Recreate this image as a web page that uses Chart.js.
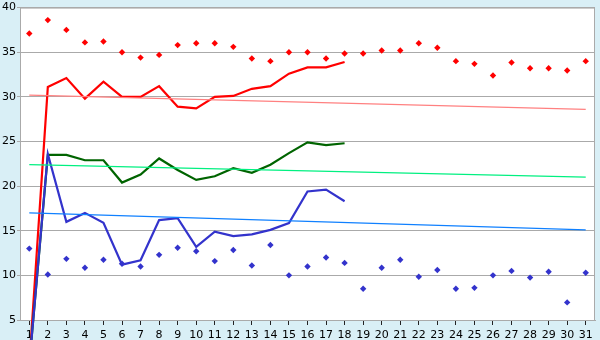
<!DOCTYPE html>
<html lang="en">
<head>
  <meta charset="UTF-8" />
  <title>Daily chart</title>
  <script src="https://cdn.jsdelivr.net/npm/chart.js"></script>
  <style>
    html, body {
      margin: 0;
      padding: 0;
      background: #d9eff6;
    }
    #wrap {
      width: 600px;
      height: 340px;
    }
  </style>
</head>
<body>
  <div id="wrap"><canvas id="chart"></canvas></div>

  <script>
    const days = Array.from({ length: 31 }, (_, i) => String(i + 1));

    // points only
    const redPoints = [37.1, 38.6, 37.5, 36.1, 36.2, 35.0, 34.4, 34.7, 35.8, 36.0,
      36.0, 35.6, 34.3, 34.0, 35.0, 35.0, 34.3, 34.85, 34.85, 35.2,
      35.2, 36.0, 35.5, 34.0, 33.7, 32.4, 33.85, 33.2, 33.2, 32.95, 34.0];
    const bluePoints = [13.0, 10.1, 11.85, 10.85, 11.75, 11.3, 11.0, 12.3, 13.1, 12.7,
      11.6, 12.85, 11.1, 13.4, 10.0, 11.0, 12.0, 11.4, 8.5, 10.85,
      11.75, 9.85, 10.6, 8.5, 8.6, 10.0, 10.5, 9.75, 10.4, 6.97, 10.3];

    // lines, days 1..18
    const redLine = [0, 31.1, 32.1, 29.8, 31.7, 30.0, 30.0, 31.2, 28.9, 28.7,
      30.0, 30.1, 30.9, 31.2, 32.6, 33.3, 33.3, 33.9];
    const greenLine = [0, 23.5, 23.5, 22.9, 22.9, 20.4, 21.3, 23.1, 21.8, 20.7,
      21.1, 22.0, 21.5, 22.4, 23.7, 24.9, 24.6, 24.8];
    const blueLine = [0, 23.6, 16.0, 17.0, 15.9, 11.2, 11.7, 16.2, 16.4, 13.2,
      14.9, 14.4, 14.6, 15.1, 15.85, 19.4, 19.6, 18.3];

    // trend lines: value at day 1 and day 31
    const redTrend = [30.2, 28.6];
    const greenTrend = [22.4, 21.0];
    const blueTrend = [17.0, 15.1];

    function trend(ends) {
      const arr = days.map(() => null);
      arr[0] = ends[0];
      arr[days.length - 1] = ends[1];
      return arr;
    }

    const plotArea = {
      id: "plotArea",
      beforeDraw(chart) {
        const { ctx, chartArea: a } = chart;
        ctx.save();
        ctx.fillStyle = "#ffffff";
        ctx.fillRect(a.left, a.top, a.right - a.left, a.bottom - a.top);
        ctx.restore();
      },
      beforeDatasetsDraw(chart) {
        const { ctx, chartArea: a } = chart;
        ctx.save();
        ctx.strokeStyle = "#aaaaaa";
        ctx.lineWidth = 1;
        ctx.strokeRect(a.left + 0.5, a.top + 0.5, a.right - a.left - 1, a.bottom - a.top);
        ctx.restore();
      }
    };

    const pts = (data, color) => ({
      data,
      showLine: false,
      borderColor: color,
      backgroundColor: color,
      pointStyle: "rectRot",
      pointRadius: 3.2,
      pointBorderWidth: 0
    });

    const line = (data, color, width, extra) => Object.assign({
      data,
      borderColor: color,
      backgroundColor: color,
      borderWidth: width,
      pointRadius: 0,
      tension: 0,
      fill: false
    }, extra || {});

    new Chart(document.getElementById("chart"), {
      type: "line",
      plugins: [plotArea],
      data: {
        labels: days,
        datasets: [
          line(trend(redTrend), "#ff8080", 1.3, { spanGaps: true }),
          line(trend(greenTrend), "#00f080", 1.3, { spanGaps: true }),
          line(trend(blueTrend), "#1080ff", 1.3, { spanGaps: true }),
          line(blueLine, "#3333cc", 2.2, { clip: false }),
          line(greenLine, "#006400", 2.2, { clip: false }),
          line(redLine, "#ff0000", 2.2, { clip: false }),
          pts(redPoints, "#ff0000"),
          pts(bluePoints, "#3333cc")
        ]
      },
      options: {
        responsive: true,
        maintainAspectRatio: false,
        animation: false,
        layout: { padding: { top: 5, right: 5, left: 0, bottom: 0 } },
        plugins: {
          legend: { display: false },
          tooltip: { enabled: false }
        },
        scales: {
          x: {
            offset: true,
            afterFit(scale) { scale.height = 20; },
            grid: {
              drawOnChartArea: false,
              color: "#222222",
              tickLength: 5,
              offset: false
            },
            border: { color: "#aaaaaa" },
            ticks: {
              color: "#000000",
              padding: 4,
              maxRotation: 0,
              autoSkip: false,
              font: { family: "DejaVu Sans", size: 11 }
            }
          },
          y: {
            min: 5,
            max: 40,
            afterFit(scale) { scale.width = 20; },
            grid: {
              color: "#aaaaaa",
              tickLength: 3
            },
            border: { color: "#aaaaaa" },
            ticks: {
              stepSize: 5,
              color: "#000000",
              padding: 1,
              font: { family: "DejaVu Sans", size: 11 }
            }
          }
        }
      }
    });
  </script>
</body>
</html>
